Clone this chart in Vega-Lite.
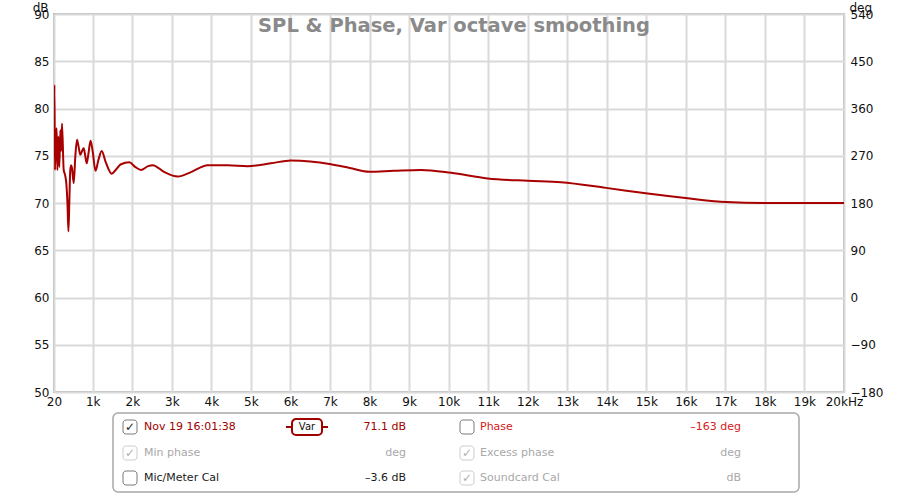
{
  "$schema": "https://vega.github.io/schema/vega-lite/v6.json",
  "background": "white",
  "padding": {"left": 31, "top": 0, "right": 5, "bottom": 0},
  "config": {
    "font": "DejaVu Sans",
    "concat": {"spacing": 4},
    "axis": {"labelFont": "DejaVu Sans", "titleFont": "DejaVu Sans", "labelColor": "#111", "titleColor": "#111"},
    "axisX": {"labelOverlap": false},
    "axisQuantitative": {"labelOverlap": false}
  },
  "datasets": {
    "spl": [
      {"f": 20, "db": 75.0}, {"f": 30, "db": 82.5}, {"f": 45, "db": 73.5}, {"f": 60, "db": 76.5},
      {"f": 88, "db": 77.9}, {"f": 104, "db": 73.5}, {"f": 130, "db": 77.0}, {"f": 155, "db": 73.8},
      {"f": 180, "db": 77.7}, {"f": 200, "db": 75.5}, {"f": 222, "db": 78.4}, {"f": 265, "db": 73.5},
      {"f": 298, "db": 73.0}, {"f": 331, "db": 72.1}, {"f": 360, "db": 70.0}, {"f": 385, "db": 67.0},
      {"f": 410, "db": 70.5}, {"f": 432, "db": 73.5}, {"f": 455, "db": 74.0}, {"f": 475, "db": 73.7},
      {"f": 518, "db": 72.1}, {"f": 560, "db": 75.0}, {"f": 602, "db": 76.7}, {"f": 640, "db": 76.0},
      {"f": 685, "db": 75.1}, {"f": 730, "db": 75.5}, {"f": 771, "db": 75.8}, {"f": 810, "db": 75.0},
      {"f": 847, "db": 74.2}, {"f": 890, "db": 75.2}, {"f": 945, "db": 76.6}, {"f": 1000, "db": 75.4},
      {"f": 1070, "db": 73.4}, {"f": 1140, "db": 74.5}, {"f": 1226, "db": 75.5}, {"f": 1330, "db": 74.3},
      {"f": 1479, "db": 73.1}, {"f": 1600, "db": 73.6}, {"f": 1714, "db": 74.1}, {"f": 1924, "db": 74.3},
      {"f": 2080, "db": 73.8}, {"f": 2220, "db": 73.5}, {"f": 2400, "db": 73.9}, {"f": 2516, "db": 74.0},
      {"f": 2800, "db": 73.3}, {"f": 3148, "db": 72.8}, {"f": 3500, "db": 73.3}, {"f": 3907, "db": 74.0},
      {"f": 4400, "db": 74.0}, {"f": 4919, "db": 73.9}, {"f": 5500, "db": 74.2}, {"f": 6014, "db": 74.5},
      {"f": 6500, "db": 74.4}, {"f": 7025, "db": 74.1}, {"f": 7500, "db": 73.7}, {"f": 7994, "db": 73.3},
      {"f": 8600, "db": 73.4}, {"f": 9302, "db": 73.5}, {"f": 10060, "db": 73.2}, {"f": 10988, "db": 72.6},
      {"f": 12000, "db": 72.35}, {"f": 12842, "db": 72.2}, {"f": 13980, "db": 71.6}, {"f": 15035, "db": 71.0},
      {"f": 16046, "db": 70.5}, {"f": 17015, "db": 70.1}, {"f": 18027, "db": 70.0}, {"f": 19000, "db": 70.0},
      {"f": 20000, "db": 70.0}
    ],
    "boxes": [
      {"x": 10, "x2": 24, "y": 7, "y2": 21, "state": "on"},
      {"x": 10, "x2": 24, "y": 33, "y2": 47, "state": "dim"},
      {"x": 10, "x2": 24, "y": 58, "y2": 72, "state": "on"},
      {"x": 347, "x2": 361, "y": 7, "y2": 21, "state": "on"},
      {"x": 347, "x2": 361, "y": 33, "y2": 47, "state": "dim"},
      {"x": 347, "x2": 361, "y": 58, "y2": 72, "state": "dim"}
    ],
    "checks": [
      {"x": 17, "y": 14, "state": "on"},
      {"x": 17, "y": 40, "state": "dim"},
      {"x": 354, "y": 40, "state": "dim"},
      {"x": 354, "y": 65, "state": "dim"}
    ],
    "texts": [
      {"x": 31, "y": 14, "label": "Nov 19 16:01:38", "kind": "dark", "side": "l"},
      {"x": 31, "y": 40, "label": "Min phase", "kind": "gray", "side": "l"},
      {"x": 31, "y": 65, "label": "Mic/Meter Cal", "kind": "black", "side": "l"},
      {"x": 293, "y": 14, "label": "71.1 dB", "kind": "dark", "side": "r"},
      {"x": 293, "y": 40, "label": "deg", "kind": "gray", "side": "r"},
      {"x": 293, "y": 65, "label": "–3.6 dB", "kind": "black", "side": "r"},
      {"x": 367, "y": 14, "label": "Phase", "kind": "red", "side": "l"},
      {"x": 367, "y": 40, "label": "Excess phase", "kind": "gray", "side": "l"},
      {"x": 367, "y": 65, "label": "Soundcard Cal", "kind": "gray", "side": "l"},
      {"x": 628, "y": 14, "label": "–163 deg", "kind": "red", "side": "r"},
      {"x": 628, "y": 40, "label": "deg", "kind": "gray", "side": "r"},
      {"x": 628, "y": 65, "label": "dB", "kind": "gray", "side": "r"}
    ]
  },
  "vconcat": [
    {
      "width": 790,
      "height": 378,
      "view": {"stroke": "#b8b8b8", "strokeWidth": 2},
      "title": {"text": "SPL & Phase, Var octave smoothing", "offset": -35, "anchor": "middle", "frame": "group", "dx": 5, "fontSize": 19.5, "fontWeight": "bold", "color": "#8a8a8a", "font": "DejaVu Sans"},
      "layer": [
        {
          "data": {"name": "spl"},
          "mark": {"type": "line", "color": "#a80000", "strokeWidth": 2, "interpolate": "monotone", "clip": true},
          "encoding": {
            "x": {
              "field": "f", "type": "quantitative",
              "scale": {"domain": [20, 20000], "nice": false, "zero": false},
              "axis": {
                "values": [20, 1000, 2000, 3000, 4000, 5000, 6000, 7000, 8000, 9000, 10000, 11000, 12000, 13000, 14000, 15000, 16000, 17000, 18000, 19000, 20000],
                "labelExpr": "datum.value == 20 ? '20' : (datum.value == 20000 ? '20kHz' : (datum.value / 1000) + 'k')",
                "title": null, "grid": true, "gridColor": "#dadada", "gridWidth": 2,
                "domain": false, "ticks": false, "labelPadding": 4, "labelFontSize": 12,
                "labelFlush": false, "labelOverlap": false, "labelBound": false
              }
            },
            "y": {
              "field": "db", "type": "quantitative",
              "scale": {"domain": [50, 90], "nice": false, "zero": false},
              "axis": {
                "values": [50, 55, 60, 65, 70, 75, 80, 85, 90],
                "title": "dB", "titleAngle": 0, "titleAlign": "right", "titleBaseline": "top",
                "titleX": -6, "titleY": -12, "titleFontWeight": "normal", "titleFontSize": 12,
                "grid": true, "gridColor": "#dadada", "gridWidth": 2,
                "domain": false, "ticks": false, "labelPadding": 5, "labelFontSize": 12
              }
            }
          }
        },
        {
          "data": {"values": [{"deg": -180}, {"deg": 540}]},
          "mark": {"type": "rule", "opacity": 0},
          "encoding": {
            "y": {
              "field": "deg", "type": "quantitative",
              "scale": {"domain": [-180, 540], "nice": false, "zero": false},
              "axis": {
                "orient": "right",
                "values": [-180, -90, 0, 90, 180, 270, 360, 450, 540],
                "title": "deg", "titleAngle": 0, "titleAlign": "left", "titleBaseline": "top",
                "titleX": 5, "titleY": -12, "titleFontWeight": "normal", "titleFontSize": 12,
                "grid": false, "domain": false, "ticks": false, "labelPadding": 6, "labelFontSize": 12
              }
            }
          }
        }
      ],
      "resolve": {"scale": {"y": "independent"}}
    },
    {
      "width": 790,
      "height": 82,
      "view": {"stroke": null},
      "layer": [
        {
          "data": {"values": [{"x": 0, "x2": 686, "y": 0, "y2": 79}]},
          "mark": {"type": "rect", "fill": "white", "stroke": "#a8a8a8", "strokeWidth": 1.5, "cornerRadius": 5},
          "encoding": {
            "x": {"field": "x", "type": "quantitative", "scale": {"domain": [-59, 731], "nice": false, "zero": false}, "axis": null},
            "x2": {"field": "x2"},
            "y": {"field": "y", "type": "quantitative", "scale": {"domain": [0, 82], "nice": false, "zero": false, "reverse": true}, "axis": null},
            "y2": {"field": "y2"}
          }
        },
        {
          "data": {"values": [{"x": 173, "x2": 215, "y": 14}]},
          "mark": {"type": "rule", "color": "#a00000", "strokeWidth": 2},
          "encoding": {
            "x": {"field": "x", "type": "quantitative"},
            "x2": {"field": "x2"},
            "y": {"field": "y", "type": "quantitative"}
          }
        },
        {
          "data": {"values": [{"x": 179, "x2": 209, "y": 6, "y2": 22}]},
          "mark": {"type": "rect", "fill": "white", "stroke": "#a00000", "strokeWidth": 2, "cornerRadius": 4},
          "encoding": {
            "x": {"field": "x", "type": "quantitative"},
            "x2": {"field": "x2"},
            "y": {"field": "y", "type": "quantitative"},
            "y2": {"field": "y2"}
          }
        },
        {
          "data": {"values": [{"x": 194, "y": 14, "label": "Var"}]},
          "mark": {"type": "text", "fontSize": 10, "color": "#111", "align": "center", "baseline": "middle"},
          "encoding": {
            "x": {"field": "x", "type": "quantitative"},
            "y": {"field": "y", "type": "quantitative"},
            "text": {"field": "label"}
          }
        },
        {
          "data": {"name": "boxes"},
          "mark": {"type": "rect", "fill": "white", "strokeWidth": 1, "cornerRadius": 3},
          "encoding": {
            "x": {"field": "x", "type": "quantitative"},
            "x2": {"field": "x2"},
            "y": {"field": "y", "type": "quantitative"},
            "y2": {"field": "y2"},
            "stroke": {"field": "state", "type": "nominal", "scale": {"domain": ["on", "dim"], "range": ["#7a7a7a", "#cccccc"]}, "legend": null}
          }
        },
        {
          "data": {"name": "checks"},
          "mark": {"type": "text", "text": "✓", "fontSize": 12, "align": "center", "baseline": "middle"},
          "encoding": {
            "x": {"field": "x", "type": "quantitative"},
            "y": {"field": "y", "type": "quantitative"},
            "color": {"field": "state", "type": "nominal", "scale": {"domain": ["on", "dim"], "range": ["#222222", "#b0b0b0"]}, "legend": null}
          }
        },
        {
          "data": {"name": "texts"},
          "transform": [{"filter": "datum.side == 'l'"}],
          "mark": {"type": "text", "fontSize": 11, "align": "left", "baseline": "middle", "font": "DejaVu Sans"},
          "encoding": {
            "x": {"field": "x", "type": "quantitative"},
            "y": {"field": "y", "type": "quantitative"},
            "text": {"field": "label"},
            "fill": {"field": "kind", "type": "nominal", "scale": {"domain": ["dark", "red", "gray", "black"], "range": ["#a00000", "#d42020", "#a8a8a8", "#1a1a1a"]}, "legend": null}
          }
        },
        {
          "data": {"name": "texts"},
          "transform": [{"filter": "datum.side == 'r'"}],
          "mark": {"type": "text", "fontSize": 11, "align": "right", "baseline": "middle", "font": "DejaVu Sans"},
          "encoding": {
            "x": {"field": "x", "type": "quantitative"},
            "y": {"field": "y", "type": "quantitative"},
            "text": {"field": "label"},
            "fill": {"field": "kind", "type": "nominal", "scale": {"domain": ["dark", "red", "gray", "black"], "range": ["#a00000", "#d42020", "#a8a8a8", "#1a1a1a"]}, "legend": null}
          }
        }
      ]
    }
  ]
}
